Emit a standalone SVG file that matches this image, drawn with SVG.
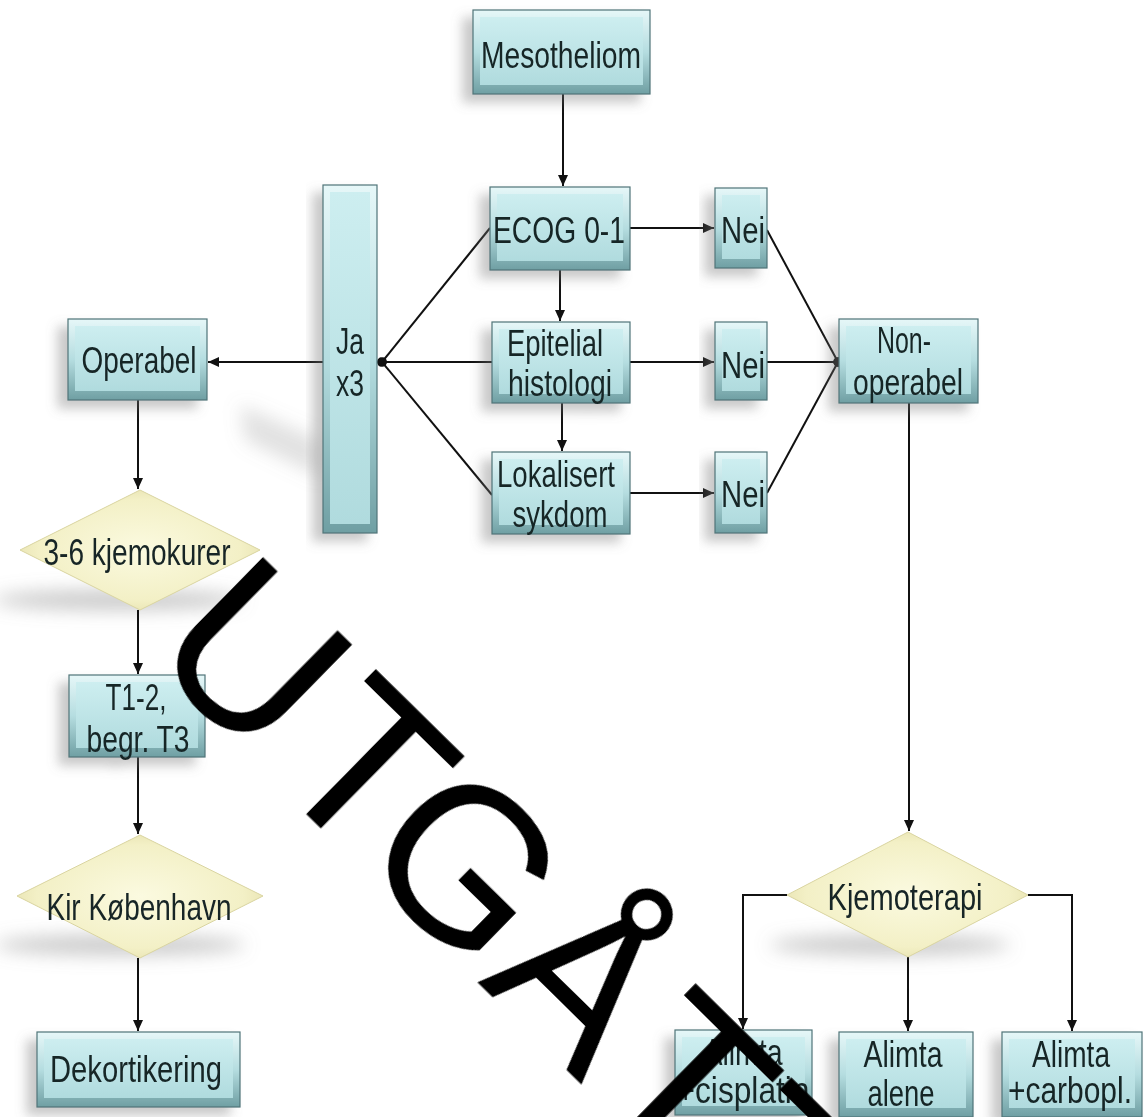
<svg xmlns="http://www.w3.org/2000/svg" width="1144" height="1117" viewBox="0 0 1144 1117">
<style>
.bo{fill:url(#bevel);stroke:#4f7478;stroke-width:1.2}
.bi{fill:url(#face)}
.dm{fill:url(#dface);stroke:#d9d4a0;stroke-width:1}
.t{font-family:"Liberation Sans",Arial,sans-serif;font-size:36px;fill:#172526;text-anchor:middle}
.c{fill:none;stroke:#111;stroke-width:2}
.wm{font-family:"Liberation Sans",Arial,sans-serif;font-size:220px;fill:#000}
</style>
<defs>
<linearGradient id="bevel" x1="0" y1="0" x2="0" y2="1">
<stop offset="0" stop-color="#e6f7f8"/><stop offset="0.5" stop-color="#b5dde0"/><stop offset="1" stop-color="#6f9fa3"/>
</linearGradient>
<linearGradient id="face" x1="0" y1="0" x2="0" y2="1">
<stop offset="0" stop-color="#cdeef0"/><stop offset="1" stop-color="#b0dbde"/>
</linearGradient>
<radialGradient id="dface" cx="0.5" cy="0.5" r="0.6">
<stop offset="0" stop-color="#fbfae0"/><stop offset="0.7" stop-color="#f3f0c6"/><stop offset="1" stop-color="#e2dca6"/>
</radialGradient>
<filter id="sh" x="-30%" y="-30%" width="160%" height="160%">
<feGaussianBlur in="SourceAlpha" stdDeviation="6"/>
<feOffset dx="-10" dy="8" result="b"/>
<feFlood flood-color="#777" flood-opacity="0.4"/>
<feComposite in2="b" operator="in"/>
<feMerge><feMergeNode/><feMergeNode in="SourceGraphic"/></feMerge>
</filter>
<filter id="blur" x="-50%" y="-150%" width="200%" height="400%"><feGaussianBlur stdDeviation="9"/></filter>
<marker id="arr" markerUnits="userSpaceOnUse" markerWidth="12" markerHeight="10" refX="11" refY="5" orient="auto">
<path d="M0,0 L11,5 L0,10 Z" fill="#111"/>
</marker>
<marker id="dot" markerUnits="userSpaceOnUse" markerWidth="12" markerHeight="12" refX="6" refY="6" orient="auto">
<ellipse cx="6" cy="6" rx="5" ry="4" fill="#111"/>
</marker>
</defs>
<rect width="1144" height="1117" fill="#fff"/>

<g id="shadows" fill="#888" filter="url(#blur)">
<ellipse cx="118" cy="600" rx="125" ry="10" opacity="0.45"/>
<ellipse cx="120" cy="945" rx="125" ry="10" opacity="0.45"/>
<ellipse cx="890" cy="945" rx="120" ry="10" opacity="0.45"/>
<path d="M240 405 L320 440 L322 478 L245 440 Z" opacity="0.25"/>
</g>

<g id="connectors">
<path class="c" d="M563 94 V186" marker-end="url(#arr)"/>
<path class="c" d="M560 270 V321" marker-end="url(#arr)"/>
<path class="c" d="M562 403 V451" marker-end="url(#arr)"/>
<path class="c" d="M630 228 H714" marker-end="url(#arr)"/>
<path class="c" d="M630 362 H714" marker-end="url(#arr)"/>
<path class="c" d="M630 493 H714" marker-end="url(#arr)"/>
<path class="c" d="M490 228 L382 362" marker-end="url(#dot)"/>
<path class="c" d="M492 362 L382 362" marker-end="url(#dot)"/>
<path class="c" d="M492 495 L382 362" marker-end="url(#dot)"/>
<path class="c" d="M323 362 H208" marker-end="url(#arr)"/>
<path class="c" d="M138 400 V489" marker-end="url(#arr)"/>
<path class="c" d="M138 610 V674" marker-end="url(#arr)"/>
<path class="c" d="M138 757 V834" marker-end="url(#arr)"/>
<path class="c" d="M138 958 V1031" marker-end="url(#arr)"/>
<path class="c" d="M767 230 L838 362" marker-end="url(#dot)"/>
<path class="c" d="M767 362 H838" marker-end="url(#dot)"/>
<path class="c" d="M767 493 L838 362" marker-end="url(#dot)"/>
<path class="c" d="M909 403 V831" marker-end="url(#arr)"/>
<path class="c" d="M787 895 H743 V1029" marker-end="url(#arr)"/>
<path class="c" d="M908 957 V1031" marker-end="url(#arr)"/>
<path class="c" d="M1028 895 H1072 V1031" marker-end="url(#arr)"/>
</g>

<g id="mesotheliom" filter="url(#sh)"><rect class="bo" x="473" y="10" width="177" height="84"/><rect class="bi" x="480" y="17" width="163" height="68"/><text class="t" x="561" y="68" textLength="160" lengthAdjust="spacingAndGlyphs">Mesotheliom</text></g>
<g id="ecog" filter="url(#sh)"><rect class="bo" x="490" y="187" width="140" height="83"/><rect class="bi" x="497" y="194" width="126" height="67"/><text class="t" x="559" y="243" textLength="132" lengthAdjust="spacingAndGlyphs">ECOG 0-1</text></g>
<g id="nei1" filter="url(#sh)"><rect class="bo" x="715" y="188" width="52" height="80"/><rect class="bi" x="722" y="195" width="38" height="64"/><text class="t" x="743" y="243" textLength="44" lengthAdjust="spacingAndGlyphs">Nei</text></g>
<g id="epitelial" filter="url(#sh)"><rect class="bo" x="492" y="322" width="138" height="81"/><rect class="bi" x="499" y="329" width="124" height="65"/><text class="t" x="555" y="356" textLength="96" lengthAdjust="spacingAndGlyphs">Epitelial</text><text class="t" x="560" y="396" textLength="104" lengthAdjust="spacingAndGlyphs">histologi</text></g>
<g id="nei2" filter="url(#sh)"><rect class="bo" x="715" y="322" width="52" height="78"/><rect class="bi" x="722" y="329" width="38" height="62"/><text class="t" x="743" y="378" textLength="44" lengthAdjust="spacingAndGlyphs">Nei</text></g>
<g id="lokalisert" filter="url(#sh)"><rect class="bo" x="492" y="452" width="138" height="82"/><rect class="bi" x="499" y="459" width="124" height="66"/><text class="t" x="556" y="487" textLength="118" lengthAdjust="spacingAndGlyphs">Lokalisert</text><text class="t" x="560" y="527" textLength="95" lengthAdjust="spacingAndGlyphs">sykdom</text></g>
<g id="nei3" filter="url(#sh)"><rect class="bo" x="715" y="452" width="52" height="81"/><rect class="bi" x="722" y="459" width="38" height="65"/><text class="t" x="743" y="507" textLength="44" lengthAdjust="spacingAndGlyphs">Nei</text></g>
<g id="ja" filter="url(#sh)"><rect class="bo" x="323" y="185" width="54" height="348"/><rect class="bi" x="330" y="192" width="40" height="332"/><text class="t" x="350" y="354" textLength="28" lengthAdjust="spacingAndGlyphs">Ja</text><text class="t" x="350" y="396" textLength="28" lengthAdjust="spacingAndGlyphs">x3</text></g>
<g id="operabel" filter="url(#sh)"><rect class="bo" x="68" y="319" width="139" height="81"/><rect class="bi" x="75" y="326" width="125" height="65"/><text class="t" x="139" y="373" textLength="115" lengthAdjust="spacingAndGlyphs">Operabel</text></g>
<g id="nonoperabel" filter="url(#sh)"><rect class="bo" x="839" y="319" width="139" height="84"/><rect class="bi" x="846" y="326" width="125" height="68"/><text class="t" x="904" y="353" textLength="54" lengthAdjust="spacingAndGlyphs">Non-</text><text class="t" x="908" y="395" textLength="110" lengthAdjust="spacingAndGlyphs">operabel</text></g>
<g id="kjemokurer"><polygon class="dm" points="20,550 140,490 260,550 140,610"/><text class="t" x="137" y="565" textLength="187" lengthAdjust="spacingAndGlyphs">3-6 kjemokurer</text></g>
<g id="t12" filter="url(#sh)"><rect class="bo" x="69" y="675" width="136" height="82"/><rect class="bi" x="76" y="682" width="122" height="66"/><text class="t" x="136" y="710" textLength="61" lengthAdjust="spacingAndGlyphs">T1-2,</text><text class="t" x="138" y="752" textLength="103" lengthAdjust="spacingAndGlyphs">begr. T3</text></g>
<g id="kir"><polygon class="dm" points="17,896 140,835 263,896 140,958"/><text class="t" x="139" y="920" textLength="185" lengthAdjust="spacingAndGlyphs">Kir København</text></g>
<g id="dekortikering" filter="url(#sh)"><rect class="bo" x="37" y="1032" width="203" height="75"/><rect class="bi" x="44" y="1039" width="189" height="59"/><text class="t" x="136" y="1082" textLength="172" lengthAdjust="spacingAndGlyphs">Dekortikering</text></g>
<g id="kjemoterapi"><polygon class="dm" points="787,895 908,832 1028,895 908,957"/><text class="t" x="905" y="910" textLength="155" lengthAdjust="spacingAndGlyphs">Kjemoterapi</text></g>
<g id="alimta-cisplatin" filter="url(#sh)"><rect class="bo" x="675" y="1030" width="137" height="85"/><rect class="bi" x="682" y="1037" width="123" height="69"/><text class="t" x="743" y="1065" textLength="79" lengthAdjust="spacingAndGlyphs">Alimta</text><text class="t" x="743" y="1103" textLength="133" lengthAdjust="spacingAndGlyphs">+cisplatin</text></g>
<g id="alimta-alene" filter="url(#sh)"><rect class="bo" x="839" y="1032" width="134" height="85"/><rect class="bi" x="846" y="1039" width="120" height="69"/><text class="t" x="903" y="1067" textLength="79" lengthAdjust="spacingAndGlyphs">Alimta</text><text class="t" x="901" y="1106" textLength="67" lengthAdjust="spacingAndGlyphs">alene</text></g>
<g id="alimta-carbopl" filter="url(#sh)"><rect class="bo" x="1002" y="1032" width="140" height="85"/><rect class="bi" x="1009" y="1039" width="126" height="69"/><text class="t" x="1071" y="1067" textLength="78" lengthAdjust="spacingAndGlyphs">Alimta</text><text class="t" x="1070" y="1103" textLength="124" lengthAdjust="spacingAndGlyphs">+carbopl.</text></g>

<g id="watermark"><text class="wm" x="0" y="0" dx="0 12 -13 4 5 0" transform="translate(144,654) rotate(44.5)">UTGÅTT</text></g>
</svg>
